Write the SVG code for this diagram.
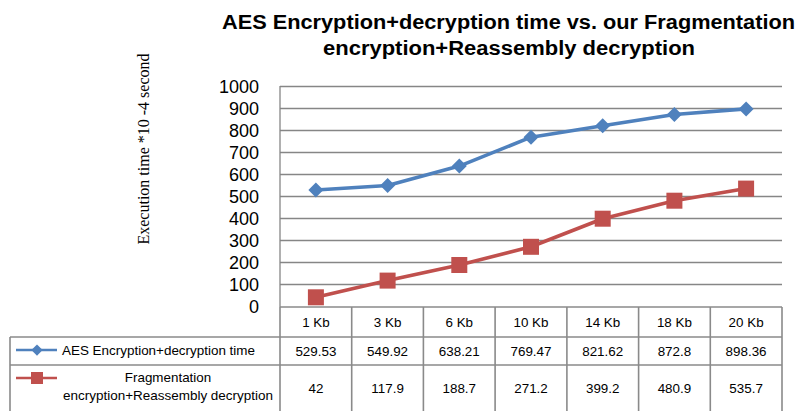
<svg xmlns="http://www.w3.org/2000/svg" width="801" height="411" viewBox="0 0 801 411">
<style>
.title{font-family:"Liberation Sans",Arial,sans-serif;font-weight:bold;font-size:20px;fill:#000;text-anchor:middle}
.ylab{font-family:"Liberation Sans",Arial,sans-serif;font-size:18px;fill:#000;text-anchor:end}
.ytitle{font-family:"Liberation Serif","Times New Roman",serif;font-size:16px;fill:#000;text-anchor:middle}
.cell{font-family:"Liberation Sans",Arial,sans-serif;font-size:13.4px;fill:#000;text-anchor:middle}
.grid{stroke:#868686;stroke-width:1.3;fill:none}
.tbl{stroke:#8a8a8a;stroke-width:1.6;fill:none}
.blue{stroke:#4F81BD;stroke-width:3.6;fill:none;stroke-linejoin:round}
.red{stroke:#C0504D;stroke-width:3.6;fill:none;stroke-linejoin:round}
.bm{fill:#4F81BD}
.rm{fill:#C0504D}
</style>
<defs>
<path id="dia" d="M0,-7.5 L7.5,0 L0,7.5 L-7.5,0 Z"/>
<rect id="sq" x="-8" y="-8" width="16" height="16"/>
</defs>
<rect width="801" height="411" fill="#fff"/>
<g id="title">
<text class="title" x="508.5" y="29" textLength="573" lengthAdjust="spacingAndGlyphs">AES Encryption+decryption time vs. our Fragmentation</text>
<text class="title" x="509" y="55" textLength="372" lengthAdjust="spacingAndGlyphs">encryption+Reassembly decryption</text>
</g>
<g id="y-axis-title">
<text class="ytitle" transform="translate(149,149) rotate(-90)">Execution time *10 -4 second</text>
</g>
<g id="gridlines">
<path class="grid" d="M280,86.5H782M280,108.5H782M280,130.5H782M280,152.5H782M280,174.5H782M280,196.5H782M280,218.5H782M280,240.5H782M280,262.5H782M280,284.5H782"/>
<path class="grid" d="M280,86V307"/>
</g>
<g id="y-axis-labels">
<text class="ylab" x="259" y="93">1000</text>
<text class="ylab" x="259" y="115">900</text>
<text class="ylab" x="259" y="137">800</text>
<text class="ylab" x="259" y="159">700</text>
<text class="ylab" x="259" y="181">600</text>
<text class="ylab" x="259" y="203">500</text>
<text class="ylab" x="259" y="225">400</text>
<text class="ylab" x="259" y="247">300</text>
<text class="ylab" x="259" y="269">200</text>
<text class="ylab" x="259" y="291">100</text>
<text class="ylab" x="259" y="313">0</text>
</g>
<g id="table">
<path class="tbl" d="M280,307H782M10,337H782M10,365H782"/>
<path class="tbl" d="M10,337V411M280,307V411M351.7,307V411M423.4,307V411M495.1,307V411M566.9,307V411M638.6,307V411M710.3,307V411M782,307V411"/>
<g id="header-row">
<text class="cell" x="315.9" y="327">1 Kb</text>
<text class="cell" x="387.6" y="327">3 Kb</text>
<text class="cell" x="459.3" y="327">6 Kb</text>
<text class="cell" x="531" y="327">10 Kb</text>
<text class="cell" x="602.7" y="327">14 Kb</text>
<text class="cell" x="674.4" y="327">18 Kb</text>
<text class="cell" x="746.1" y="327">20 Kb</text>
</g>
<g id="aes-row">
<path d="M16,350H57" stroke="#4F81BD" stroke-width="2.4"/>
<use href="#dia" class="bm" x="37" y="350" transform="translate(37,350) scale(0.75) translate(-37,-350)"/>
<text class="cell" x="158.5" y="355" textLength="193" lengthAdjust="spacingAndGlyphs">AES Encryption+decryption time</text>
<text class="cell" x="315.9" y="356">529.53</text>
<text class="cell" x="387.6" y="356">549.92</text>
<text class="cell" x="459.3" y="356">638.21</text>
<text class="cell" x="531" y="356">769.47</text>
<text class="cell" x="602.7" y="356">821.62</text>
<text class="cell" x="674.4" y="356">872.8</text>
<text class="cell" x="746.1" y="356">898.36</text>
</g>
<g id="frag-row">
<path d="M16,378H57" stroke="#C0504D" stroke-width="2.4"/>
<rect class="rm" x="31" y="372" width="12" height="12"/>
<text class="cell" x="168" y="382">Fragmentation</text>
<text class="cell" x="168" y="400" textLength="210" lengthAdjust="spacingAndGlyphs">encryption+Reassembly decryption</text>
<text class="cell" x="315.9" y="393">42</text>
<text class="cell" x="387.6" y="393">117.9</text>
<text class="cell" x="459.3" y="393">188.7</text>
<text class="cell" x="531" y="393">271.2</text>
<text class="cell" x="602.7" y="393">399.2</text>
<text class="cell" x="674.4" y="393">480.9</text>
<text class="cell" x="746.1" y="393">535.7</text>
</g>
</g>
<g id="connectors">
<polyline id="aes-line" class="blue" points="315.9,190 387.6,185.5 459.3,166.1 531,137.2 602.7,125.7 674.4,114.5 746.1,108.9"/>
<polyline id="frag-line" class="red" points="315.9,297.3 387.6,280.6 459.3,265 531,246.8 602.7,218.7 674.4,200.7 746.1,188.6"/>
</g>
<g id="aes-markers" class="bm">
<use href="#dia" x="315.9" y="190"/>
<use href="#dia" x="387.6" y="185.5"/>
<use href="#dia" x="459.3" y="166.1"/>
<use href="#dia" x="531" y="137.2"/>
<use href="#dia" x="602.7" y="125.7"/>
<use href="#dia" x="674.4" y="114.5"/>
<use href="#dia" x="746.1" y="108.9"/>
</g>
<g id="frag-markers" class="rm">
<use href="#sq" x="315.9" y="297.3"/>
<use href="#sq" x="387.6" y="280.6"/>
<use href="#sq" x="459.3" y="265"/>
<use href="#sq" x="531" y="246.8"/>
<use href="#sq" x="602.7" y="218.7"/>
<use href="#sq" x="674.4" y="200.7"/>
<use href="#sq" x="746.1" y="188.6"/>
</g>
</svg>
